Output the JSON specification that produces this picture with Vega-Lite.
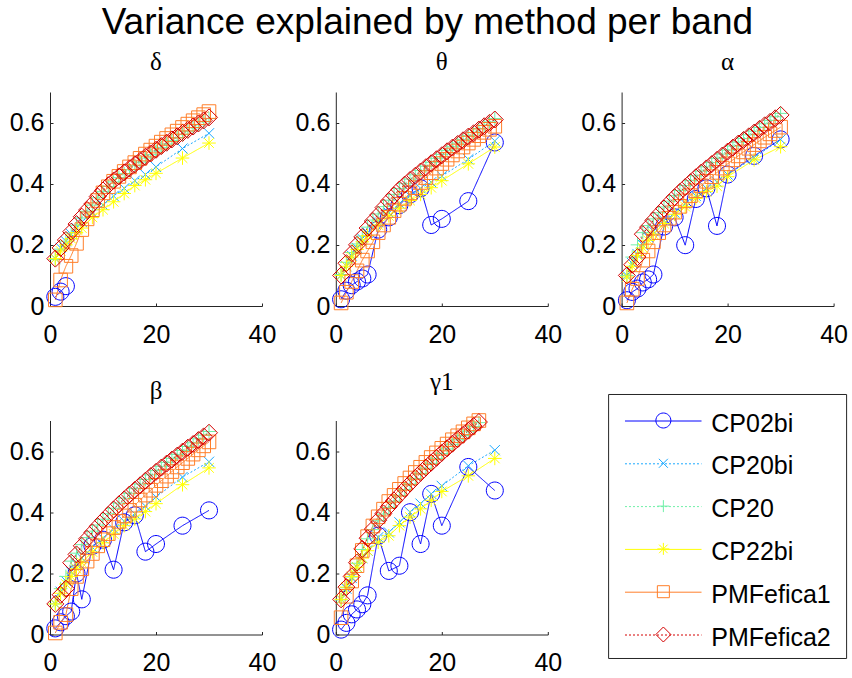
{
"$schema":"https://vega.github.io/schema/vega-lite/v6.json",
"background":"white",
"padding":{"left":9,"top":4,"right":0,"bottom":0},
"title":{"text":"Variance explained by method per band","font":"Liberation Sans","fontSize":37,"fontWeight":"normal","color":"#000","anchor":"middle","offset":8,"dx":-1},
"datasets":{
"d":[
{"m":"CP02bi","x":1,"y":0.03},{"m":"CP02bi","x":2,"y":0.047},{"m":"CP02bi","x":3,"y":0.065},
{"m":"CP20bi","x":1,"y":0.155},{"m":"CP20bi","x":2,"y":0.19},{"m":"CP20bi","x":3,"y":0.212},{"m":"CP20bi","x":4,"y":0.235},{"m":"CP20bi","x":5,"y":0.255},{"m":"CP20bi","x":6,"y":0.275},{"m":"CP20bi","x":8,"y":0.305},{"m":"CP20bi","x":10,"y":0.33},{"m":"CP20bi","x":12,"y":0.36},{"m":"CP20bi","x":14,"y":0.385},{"m":"CP20bi","x":16,"y":0.41},{"m":"CP20bi","x":18,"y":0.43},{"m":"CP20bi","x":20,"y":0.455},{"m":"CP20bi","x":25,"y":0.515},{"m":"CP20bi","x":30,"y":0.565},
{"m":"CP20","x":1,"y":0.152},{"m":"CP20","x":2,"y":0.186},{"m":"CP20","x":3,"y":0.212},{"m":"CP20","x":4,"y":0.239},{"m":"CP20","x":5,"y":0.264},{"m":"CP20","x":6,"y":0.288},{"m":"CP20","x":7,"y":0.31},{"m":"CP20","x":8,"y":0.33},{"m":"CP20","x":9,"y":0.354},{"m":"CP20","x":10,"y":0.374},{"m":"CP20","x":11,"y":0.391},{"m":"CP20","x":12,"y":0.406},{"m":"CP20","x":13,"y":0.42},{"m":"CP20","x":14,"y":0.433},{"m":"CP20","x":15,"y":0.446},{"m":"CP20","x":16,"y":0.459},{"m":"CP20","x":17,"y":0.471},{"m":"CP20","x":18,"y":0.484},{"m":"CP20","x":19,"y":0.495},{"m":"CP20","x":20,"y":0.507},{"m":"CP20","x":21,"y":0.519},{"m":"CP20","x":22,"y":0.53},{"m":"CP20","x":23,"y":0.541},{"m":"CP20","x":24,"y":0.551},{"m":"CP20","x":25,"y":0.562},{"m":"CP20","x":26,"y":0.572},{"m":"CP20","x":27,"y":0.583},{"m":"CP20","x":28,"y":0.593},{"m":"CP20","x":29,"y":0.603},{"m":"CP20","x":30,"y":0.613},
{"m":"CP22bi","x":1,"y":0.155},{"m":"CP22bi","x":2,"y":0.18},{"m":"CP22bi","x":3,"y":0.2},{"m":"CP22bi","x":4,"y":0.22},{"m":"CP22bi","x":5,"y":0.24},{"m":"CP22bi","x":6,"y":0.255},{"m":"CP22bi","x":8,"y":0.29},{"m":"CP22bi","x":10,"y":0.315},{"m":"CP22bi","x":12,"y":0.341},{"m":"CP22bi","x":14,"y":0.368},{"m":"CP22bi","x":16,"y":0.394},{"m":"CP22bi","x":18,"y":0.413},{"m":"CP22bi","x":20,"y":0.434},{"m":"CP22bi","x":25,"y":0.484},{"m":"CP22bi","x":30,"y":0.533},
{"m":"PMFefica1","x":1,"y":0.02},{"m":"PMFefica1","x":2,"y":0.085},{"m":"PMFefica1","x":3,"y":0.13},{"m":"PMFefica1","x":4,"y":0.165},{"m":"PMFefica1","x":5,"y":0.205},{"m":"PMFefica1","x":6,"y":0.25},{"m":"PMFefica1","x":7,"y":0.285},{"m":"PMFefica1","x":8,"y":0.315},{"m":"PMFefica1","x":9,"y":0.345},{"m":"PMFefica1","x":10,"y":0.37},{"m":"PMFefica1","x":11,"y":0.39},{"m":"PMFefica1","x":12,"y":0.408},{"m":"PMFefica1","x":13,"y":0.424},{"m":"PMFefica1","x":14,"y":0.44},{"m":"PMFefica1","x":15,"y":0.455},{"m":"PMFefica1","x":16,"y":0.469},{"m":"PMFefica1","x":17,"y":0.483},{"m":"PMFefica1","x":18,"y":0.497},{"m":"PMFefica1","x":19,"y":0.51},{"m":"PMFefica1","x":20,"y":0.523},{"m":"PMFefica1","x":21,"y":0.536},{"m":"PMFefica1","x":22,"y":0.548},{"m":"PMFefica1","x":23,"y":0.56},{"m":"PMFefica1","x":24,"y":0.572},{"m":"PMFefica1","x":25,"y":0.584},{"m":"PMFefica1","x":26,"y":0.595},{"m":"PMFefica1","x":27,"y":0.606},{"m":"PMFefica1","x":28,"y":0.616},{"m":"PMFefica1","x":29,"y":0.626},{"m":"PMFefica1","x":30,"y":0.636},
{"m":"PMFefica2","x":1,"y":0.155},{"m":"PMFefica2","x":2,"y":0.19},{"m":"PMFefica2","x":3,"y":0.216},{"m":"PMFefica2","x":4,"y":0.243},{"m":"PMFefica2","x":5,"y":0.268},{"m":"PMFefica2","x":6,"y":0.292},{"m":"PMFefica2","x":7,"y":0.314},{"m":"PMFefica2","x":8,"y":0.334},{"m":"PMFefica2","x":9,"y":0.358},{"m":"PMFefica2","x":10,"y":0.378},{"m":"PMFefica2","x":11,"y":0.395},{"m":"PMFefica2","x":12,"y":0.41},{"m":"PMFefica2","x":13,"y":0.424},{"m":"PMFefica2","x":14,"y":0.437},{"m":"PMFefica2","x":15,"y":0.45},{"m":"PMFefica2","x":16,"y":0.463},{"m":"PMFefica2","x":17,"y":0.475},{"m":"PMFefica2","x":18,"y":0.488},{"m":"PMFefica2","x":19,"y":0.499},{"m":"PMFefica2","x":20,"y":0.511},{"m":"PMFefica2","x":21,"y":0.523},{"m":"PMFefica2","x":22,"y":0.534},{"m":"PMFefica2","x":23,"y":0.545},{"m":"PMFefica2","x":24,"y":0.555},{"m":"PMFefica2","x":25,"y":0.566},{"m":"PMFefica2","x":26,"y":0.576},{"m":"PMFefica2","x":27,"y":0.587},{"m":"PMFefica2","x":28,"y":0.597},{"m":"PMFefica2","x":29,"y":0.607},{"m":"PMFefica2","x":30,"y":0.617}
],
"t":[
{"m":"CP02bi","x":1,"y":0.022},{"m":"CP02bi","x":2,"y":0.05},{"m":"CP02bi","x":3,"y":0.068},{"m":"CP02bi","x":4,"y":0.08},{"m":"CP02bi","x":5,"y":0.09},{"m":"CP02bi","x":6,"y":0.103},{"m":"CP02bi","x":8,"y":0.25},{"m":"CP02bi","x":10,"y":0.29},{"m":"CP02bi","x":12,"y":0.33},{"m":"CP02bi","x":14,"y":0.365},{"m":"CP02bi","x":16,"y":0.385},{"m":"CP02bi","x":18,"y":0.265},{"m":"CP02bi","x":20,"y":0.285},{"m":"CP02bi","x":25,"y":0.343},{"m":"CP02bi","x":30,"y":0.535},
{"m":"CP20bi","x":1,"y":0.1},{"m":"CP20bi","x":2,"y":0.13},{"m":"CP20bi","x":3,"y":0.165},{"m":"CP20bi","x":4,"y":0.19},{"m":"CP20bi","x":5,"y":0.22},{"m":"CP20bi","x":6,"y":0.24},{"m":"CP20bi","x":8,"y":0.275},{"m":"CP20bi","x":10,"y":0.305},{"m":"CP20bi","x":12,"y":0.335},{"m":"CP20bi","x":14,"y":0.36},{"m":"CP20bi","x":16,"y":0.385},{"m":"CP20bi","x":18,"y":0.405},{"m":"CP20bi","x":20,"y":0.425},{"m":"CP20bi","x":25,"y":0.48},{"m":"CP20bi","x":30,"y":0.54},
{"m":"CP20","x":1,"y":0.103},{"m":"CP20","x":2,"y":0.143},{"m":"CP20","x":3,"y":0.175},{"m":"CP20","x":4,"y":0.203},{"m":"CP20","x":5,"y":0.229},{"m":"CP20","x":6,"y":0.258},{"m":"CP20","x":7,"y":0.281},{"m":"CP20","x":8,"y":0.301},{"m":"CP20","x":9,"y":0.325},{"m":"CP20","x":10,"y":0.346},{"m":"CP20","x":11,"y":0.365},{"m":"CP20","x":12,"y":0.384},{"m":"CP20","x":13,"y":0.4},{"m":"CP20","x":14,"y":0.415},{"m":"CP20","x":15,"y":0.429},{"m":"CP20","x":16,"y":0.443},{"m":"CP20","x":17,"y":0.457},{"m":"CP20","x":18,"y":0.47},{"m":"CP20","x":19,"y":0.483},{"m":"CP20","x":20,"y":0.496},{"m":"CP20","x":21,"y":0.509},{"m":"CP20","x":22,"y":0.521},{"m":"CP20","x":23,"y":0.533},{"m":"CP20","x":24,"y":0.545},{"m":"CP20","x":25,"y":0.557},{"m":"CP20","x":26,"y":0.568},{"m":"CP20","x":27,"y":0.58},{"m":"CP20","x":28,"y":0.591},{"m":"CP20","x":29,"y":0.602},{"m":"CP20","x":30,"y":0.613},
{"m":"CP22bi","x":1,"y":0.1},{"m":"CP22bi","x":2,"y":0.13},{"m":"CP22bi","x":3,"y":0.16},{"m":"CP22bi","x":4,"y":0.185},{"m":"CP22bi","x":5,"y":0.21},{"m":"CP22bi","x":6,"y":0.23},{"m":"CP22bi","x":8,"y":0.265},{"m":"CP22bi","x":10,"y":0.295},{"m":"CP22bi","x":12,"y":0.32},{"m":"CP22bi","x":14,"y":0.345},{"m":"CP22bi","x":16,"y":0.365},{"m":"CP22bi","x":18,"y":0.387},{"m":"CP22bi","x":20,"y":0.41},{"m":"CP22bi","x":25,"y":0.465},{"m":"CP22bi","x":30,"y":0.52},
{"m":"PMFefica1","x":1,"y":0.01},{"m":"PMFefica1","x":2,"y":0.045},{"m":"PMFefica1","x":3,"y":0.08},{"m":"PMFefica1","x":4,"y":0.115},{"m":"PMFefica1","x":5,"y":0.15},{"m":"PMFefica1","x":6,"y":0.18},{"m":"PMFefica1","x":7,"y":0.21},{"m":"PMFefica1","x":8,"y":0.24},{"m":"PMFefica1","x":9,"y":0.265},{"m":"PMFefica1","x":10,"y":0.29},{"m":"PMFefica1","x":11,"y":0.312},{"m":"PMFefica1","x":12,"y":0.333},{"m":"PMFefica1","x":13,"y":0.352},{"m":"PMFefica1","x":14,"y":0.37},{"m":"PMFefica1","x":15,"y":0.387},{"m":"PMFefica1","x":16,"y":0.404},{"m":"PMFefica1","x":17,"y":0.42},{"m":"PMFefica1","x":18,"y":0.436},{"m":"PMFefica1","x":19,"y":0.451},{"m":"PMFefica1","x":20,"y":0.466},{"m":"PMFefica1","x":21,"y":0.48},{"m":"PMFefica1","x":22,"y":0.494},{"m":"PMFefica1","x":23,"y":0.507},{"m":"PMFefica1","x":24,"y":0.52},{"m":"PMFefica1","x":25,"y":0.533},{"m":"PMFefica1","x":26,"y":0.545},{"m":"PMFefica1","x":27,"y":0.557},{"m":"PMFefica1","x":28,"y":0.568},{"m":"PMFefica1","x":29,"y":0.578},{"m":"PMFefica1","x":30,"y":0.588},
{"m":"PMFefica2","x":1,"y":0.1},{"m":"PMFefica2","x":2,"y":0.14},{"m":"PMFefica2","x":3,"y":0.172},{"m":"PMFefica2","x":4,"y":0.2},{"m":"PMFefica2","x":5,"y":0.226},{"m":"PMFefica2","x":6,"y":0.255},{"m":"PMFefica2","x":7,"y":0.278},{"m":"PMFefica2","x":8,"y":0.298},{"m":"PMFefica2","x":9,"y":0.322},{"m":"PMFefica2","x":10,"y":0.343},{"m":"PMFefica2","x":11,"y":0.362},{"m":"PMFefica2","x":12,"y":0.381},{"m":"PMFefica2","x":13,"y":0.397},{"m":"PMFefica2","x":14,"y":0.412},{"m":"PMFefica2","x":15,"y":0.426},{"m":"PMFefica2","x":16,"y":0.44},{"m":"PMFefica2","x":17,"y":0.454},{"m":"PMFefica2","x":18,"y":0.467},{"m":"PMFefica2","x":19,"y":0.48},{"m":"PMFefica2","x":20,"y":0.493},{"m":"PMFefica2","x":21,"y":0.506},{"m":"PMFefica2","x":22,"y":0.518},{"m":"PMFefica2","x":23,"y":0.53},{"m":"PMFefica2","x":24,"y":0.542},{"m":"PMFefica2","x":25,"y":0.554},{"m":"PMFefica2","x":26,"y":0.565},{"m":"PMFefica2","x":27,"y":0.577},{"m":"PMFefica2","x":28,"y":0.588},{"m":"PMFefica2","x":29,"y":0.599},{"m":"PMFefica2","x":30,"y":0.61}
],
"a":[
{"m":"CP02bi","x":1,"y":0.019},{"m":"CP02bi","x":2,"y":0.046},{"m":"CP02bi","x":3,"y":0.057},{"m":"CP02bi","x":4,"y":0.077},{"m":"CP02bi","x":5,"y":0.087},{"m":"CP02bi","x":6,"y":0.103},{"m":"CP02bi","x":8,"y":0.26},{"m":"CP02bi","x":10,"y":0.29},{"m":"CP02bi","x":12,"y":0.199},{"m":"CP02bi","x":14,"y":0.35},{"m":"CP02bi","x":16,"y":0.385},{"m":"CP02bi","x":18,"y":0.262},{"m":"CP02bi","x":20,"y":0.43},{"m":"CP02bi","x":25,"y":0.491},{"m":"CP02bi","x":30,"y":0.545},
{"m":"CP20bi","x":1,"y":0.1},{"m":"CP20bi","x":2,"y":0.14},{"m":"CP20bi","x":3,"y":0.17},{"m":"CP20bi","x":4,"y":0.2},{"m":"CP20bi","x":5,"y":0.225},{"m":"CP20bi","x":6,"y":0.245},{"m":"CP20bi","x":8,"y":0.28},{"m":"CP20bi","x":10,"y":0.305},{"m":"CP20bi","x":12,"y":0.335},{"m":"CP20bi","x":14,"y":0.36},{"m":"CP20bi","x":16,"y":0.385},{"m":"CP20bi","x":18,"y":0.405},{"m":"CP20bi","x":20,"y":0.43},{"m":"CP20bi","x":25,"y":0.485},{"m":"CP20bi","x":30,"y":0.545},
{"m":"CP20","x":1,"y":0.1},{"m":"CP20","x":2,"y":0.16},{"m":"CP20","x":3,"y":0.2},{"m":"CP20","x":4,"y":0.24},{"m":"CP20","x":5,"y":0.263},{"m":"CP20","x":6,"y":0.285},{"m":"CP20","x":7,"y":0.305},{"m":"CP20","x":8,"y":0.324},{"m":"CP20","x":9,"y":0.343},{"m":"CP20","x":10,"y":0.361},{"m":"CP20","x":11,"y":0.378},{"m":"CP20","x":12,"y":0.394},{"m":"CP20","x":13,"y":0.41},{"m":"CP20","x":14,"y":0.426},{"m":"CP20","x":15,"y":0.441},{"m":"CP20","x":16,"y":0.455},{"m":"CP20","x":17,"y":0.469},{"m":"CP20","x":18,"y":0.483},{"m":"CP20","x":19,"y":0.497},{"m":"CP20","x":20,"y":0.51},{"m":"CP20","x":21,"y":0.523},{"m":"CP20","x":22,"y":0.536},{"m":"CP20","x":23,"y":0.548},{"m":"CP20","x":24,"y":0.56},{"m":"CP20","x":25,"y":0.572},{"m":"CP20","x":26,"y":0.584},{"m":"CP20","x":27,"y":0.596},{"m":"CP20","x":28,"y":0.607},{"m":"CP20","x":29,"y":0.619},{"m":"CP20","x":30,"y":0.63},
{"m":"CP22bi","x":1,"y":0.095},{"m":"CP22bi","x":2,"y":0.13},{"m":"CP22bi","x":3,"y":0.165},{"m":"CP22bi","x":4,"y":0.19},{"m":"CP22bi","x":5,"y":0.215},{"m":"CP22bi","x":6,"y":0.235},{"m":"CP22bi","x":8,"y":0.27},{"m":"CP22bi","x":10,"y":0.3},{"m":"CP22bi","x":12,"y":0.325},{"m":"CP22bi","x":14,"y":0.352},{"m":"CP22bi","x":16,"y":0.374},{"m":"CP22bi","x":18,"y":0.392},{"m":"CP22bi","x":20,"y":0.423},{"m":"CP22bi","x":25,"y":0.478},{"m":"CP22bi","x":30,"y":0.521},
{"m":"PMFefica1","x":1,"y":0.01},{"m":"PMFefica1","x":2,"y":0.055},{"m":"PMFefica1","x":3,"y":0.09},{"m":"PMFefica1","x":4,"y":0.15},{"m":"PMFefica1","x":5,"y":0.18},{"m":"PMFefica1","x":6,"y":0.21},{"m":"PMFefica1","x":7,"y":0.24},{"m":"PMFefica1","x":8,"y":0.265},{"m":"PMFefica1","x":9,"y":0.287},{"m":"PMFefica1","x":10,"y":0.307},{"m":"PMFefica1","x":11,"y":0.326},{"m":"PMFefica1","x":12,"y":0.344},{"m":"PMFefica1","x":13,"y":0.361},{"m":"PMFefica1","x":14,"y":0.377},{"m":"PMFefica1","x":15,"y":0.393},{"m":"PMFefica1","x":16,"y":0.408},{"m":"PMFefica1","x":17,"y":0.423},{"m":"PMFefica1","x":18,"y":0.437},{"m":"PMFefica1","x":19,"y":0.451},{"m":"PMFefica1","x":20,"y":0.465},{"m":"PMFefica1","x":21,"y":0.478},{"m":"PMFefica1","x":22,"y":0.491},{"m":"PMFefica1","x":23,"y":0.504},{"m":"PMFefica1","x":24,"y":0.516},{"m":"PMFefica1","x":25,"y":0.528},{"m":"PMFefica1","x":26,"y":0.54},{"m":"PMFefica1","x":27,"y":0.552},{"m":"PMFefica1","x":28,"y":0.563},{"m":"PMFefica1","x":29,"y":0.574},{"m":"PMFefica1","x":30,"y":0.585},
{"m":"PMFefica2","x":1,"y":0.1},{"m":"PMFefica2","x":2,"y":0.135},{"m":"PMFefica2","x":3,"y":0.16},{"m":"PMFefica2","x":4,"y":0.235},{"m":"PMFefica2","x":5,"y":0.258},{"m":"PMFefica2","x":6,"y":0.28},{"m":"PMFefica2","x":7,"y":0.3},{"m":"PMFefica2","x":8,"y":0.319},{"m":"PMFefica2","x":9,"y":0.338},{"m":"PMFefica2","x":10,"y":0.356},{"m":"PMFefica2","x":11,"y":0.373},{"m":"PMFefica2","x":12,"y":0.389},{"m":"PMFefica2","x":13,"y":0.405},{"m":"PMFefica2","x":14,"y":0.421},{"m":"PMFefica2","x":15,"y":0.436},{"m":"PMFefica2","x":16,"y":0.45},{"m":"PMFefica2","x":17,"y":0.464},{"m":"PMFefica2","x":18,"y":0.478},{"m":"PMFefica2","x":19,"y":0.492},{"m":"PMFefica2","x":20,"y":0.505},{"m":"PMFefica2","x":21,"y":0.518},{"m":"PMFefica2","x":22,"y":0.531},{"m":"PMFefica2","x":23,"y":0.543},{"m":"PMFefica2","x":24,"y":0.555},{"m":"PMFefica2","x":25,"y":0.567},{"m":"PMFefica2","x":26,"y":0.579},{"m":"PMFefica2","x":27,"y":0.591},{"m":"PMFefica2","x":28,"y":0.602},{"m":"PMFefica2","x":29,"y":0.614},{"m":"PMFefica2","x":30,"y":0.625}
],
"b":[
{"m":"CP02bi","x":1,"y":0.02},{"m":"CP02bi","x":2,"y":0.04},{"m":"CP02bi","x":3,"y":0.06},{"m":"CP02bi","x":4,"y":0.075},{"m":"CP02bi","x":5,"y":0.2},{"m":"CP02bi","x":6,"y":0.115},{"m":"CP02bi","x":8,"y":0.29},{"m":"CP02bi","x":10,"y":0.31},{"m":"CP02bi","x":12,"y":0.212},{"m":"CP02bi","x":14,"y":0.367},{"m":"CP02bi","x":16,"y":0.39},{"m":"CP02bi","x":18,"y":0.271},{"m":"CP02bi","x":20,"y":0.296},{"m":"CP02bi","x":25,"y":0.356},{"m":"CP02bi","x":30,"y":0.406},
{"m":"CP20bi","x":1,"y":0.1},{"m":"CP20bi","x":2,"y":0.14},{"m":"CP20bi","x":3,"y":0.175},{"m":"CP20bi","x":4,"y":0.205},{"m":"CP20bi","x":5,"y":0.23},{"m":"CP20bi","x":6,"y":0.25},{"m":"CP20bi","x":8,"y":0.285},{"m":"CP20bi","x":10,"y":0.315},{"m":"CP20bi","x":12,"y":0.345},{"m":"CP20bi","x":14,"y":0.37},{"m":"CP20bi","x":16,"y":0.395},{"m":"CP20bi","x":18,"y":0.42},{"m":"CP20bi","x":20,"y":0.45},{"m":"CP20bi","x":25,"y":0.515},{"m":"CP20bi","x":30,"y":0.565},
{"m":"CP20","x":1,"y":0.1},{"m":"CP20","x":2,"y":0.15},{"m":"CP20","x":3,"y":0.19},{"m":"CP20","x":4,"y":0.24},{"m":"CP20","x":5,"y":0.266},{"m":"CP20","x":6,"y":0.294},{"m":"CP20","x":7,"y":0.317},{"m":"CP20","x":8,"y":0.338},{"m":"CP20","x":9,"y":0.358},{"m":"CP20","x":10,"y":0.377},{"m":"CP20","x":11,"y":0.395},{"m":"CP20","x":12,"y":0.413},{"m":"CP20","x":13,"y":0.43},{"m":"CP20","x":14,"y":0.446},{"m":"CP20","x":15,"y":0.462},{"m":"CP20","x":16,"y":0.477},{"m":"CP20","x":17,"y":0.492},{"m":"CP20","x":18,"y":0.507},{"m":"CP20","x":19,"y":0.522},{"m":"CP20","x":20,"y":0.536},{"m":"CP20","x":21,"y":0.55},{"m":"CP20","x":22,"y":0.563},{"m":"CP20","x":23,"y":0.576},{"m":"CP20","x":24,"y":0.589},{"m":"CP20","x":25,"y":0.602},{"m":"CP20","x":26,"y":0.615},{"m":"CP20","x":27,"y":0.627},{"m":"CP20","x":28,"y":0.64},{"m":"CP20","x":29,"y":0.652},{"m":"CP20","x":30,"y":0.664},
{"m":"CP22bi","x":1,"y":0.1},{"m":"CP22bi","x":2,"y":0.135},{"m":"CP22bi","x":3,"y":0.165},{"m":"CP22bi","x":4,"y":0.19},{"m":"CP22bi","x":5,"y":0.215},{"m":"CP22bi","x":6,"y":0.235},{"m":"CP22bi","x":8,"y":0.27},{"m":"CP22bi","x":10,"y":0.3},{"m":"CP22bi","x":12,"y":0.329},{"m":"CP22bi","x":14,"y":0.356},{"m":"CP22bi","x":16,"y":0.378},{"m":"CP22bi","x":18,"y":0.402},{"m":"CP22bi","x":20,"y":0.428},{"m":"CP22bi","x":25,"y":0.49},{"m":"CP22bi","x":30,"y":0.545},
{"m":"PMFefica1","x":1,"y":0.005},{"m":"PMFefica1","x":2,"y":0.04},{"m":"PMFefica1","x":3,"y":0.065},{"m":"PMFefica1","x":4,"y":0.15},{"m":"PMFefica1","x":5,"y":0.19},{"m":"PMFefica1","x":6,"y":0.215},{"m":"PMFefica1","x":7,"y":0.24},{"m":"PMFefica1","x":8,"y":0.265},{"m":"PMFefica1","x":9,"y":0.29},{"m":"PMFefica1","x":10,"y":0.31},{"m":"PMFefica1","x":11,"y":0.33},{"m":"PMFefica1","x":12,"y":0.35},{"m":"PMFefica1","x":13,"y":0.37},{"m":"PMFefica1","x":14,"y":0.388},{"m":"PMFefica1","x":15,"y":0.406},{"m":"PMFefica1","x":16,"y":0.423},{"m":"PMFefica1","x":17,"y":0.44},{"m":"PMFefica1","x":18,"y":0.456},{"m":"PMFefica1","x":19,"y":0.472},{"m":"PMFefica1","x":20,"y":0.488},{"m":"PMFefica1","x":21,"y":0.503},{"m":"PMFefica1","x":22,"y":0.518},{"m":"PMFefica1","x":23,"y":0.533},{"m":"PMFefica1","x":24,"y":0.548},{"m":"PMFefica1","x":25,"y":0.562},{"m":"PMFefica1","x":26,"y":0.576},{"m":"PMFefica1","x":27,"y":0.59},{"m":"PMFefica1","x":28,"y":0.604},{"m":"PMFefica1","x":29,"y":0.617},{"m":"PMFefica1","x":30,"y":0.63},
{"m":"PMFefica2","x":1,"y":0.1},{"m":"PMFefica2","x":2,"y":0.13},{"m":"PMFefica2","x":3,"y":0.15},{"m":"PMFefica2","x":4,"y":0.235},{"m":"PMFefica2","x":5,"y":0.262},{"m":"PMFefica2","x":6,"y":0.29},{"m":"PMFefica2","x":7,"y":0.313},{"m":"PMFefica2","x":8,"y":0.334},{"m":"PMFefica2","x":9,"y":0.354},{"m":"PMFefica2","x":10,"y":0.373},{"m":"PMFefica2","x":11,"y":0.391},{"m":"PMFefica2","x":12,"y":0.409},{"m":"PMFefica2","x":13,"y":0.426},{"m":"PMFefica2","x":14,"y":0.442},{"m":"PMFefica2","x":15,"y":0.458},{"m":"PMFefica2","x":16,"y":0.473},{"m":"PMFefica2","x":17,"y":0.488},{"m":"PMFefica2","x":18,"y":0.503},{"m":"PMFefica2","x":19,"y":0.518},{"m":"PMFefica2","x":20,"y":0.532},{"m":"PMFefica2","x":21,"y":0.546},{"m":"PMFefica2","x":22,"y":0.559},{"m":"PMFefica2","x":23,"y":0.572},{"m":"PMFefica2","x":24,"y":0.585},{"m":"PMFefica2","x":25,"y":0.598},{"m":"PMFefica2","x":26,"y":0.611},{"m":"PMFefica2","x":27,"y":0.623},{"m":"PMFefica2","x":28,"y":0.636},{"m":"PMFefica2","x":29,"y":0.648},{"m":"PMFefica2","x":30,"y":0.66}
],
"g":[
{"m":"CP02bi","x":1,"y":0.016},{"m":"CP02bi","x":2,"y":0.038},{"m":"CP02bi","x":3,"y":0.066},{"m":"CP02bi","x":4,"y":0.082},{"m":"CP02bi","x":5,"y":0.099},{"m":"CP02bi","x":6,"y":0.128},{"m":"CP02bi","x":8,"y":0.323},{"m":"CP02bi","x":10,"y":0.208},{"m":"CP02bi","x":12,"y":0.225},{"m":"CP02bi","x":14,"y":0.4},{"m":"CP02bi","x":16,"y":0.296},{"m":"CP02bi","x":18,"y":0.46},{"m":"CP02bi","x":20,"y":0.356},{"m":"CP02bi","x":25,"y":0.548},{"m":"CP02bi","x":30,"y":0.471},
{"m":"CP20bi","x":1,"y":0.115},{"m":"CP20bi","x":2,"y":0.15},{"m":"CP20bi","x":3,"y":0.185},{"m":"CP20bi","x":4,"y":0.22},{"m":"CP20bi","x":5,"y":0.25},{"m":"CP20bi","x":6,"y":0.274},{"m":"CP20bi","x":8,"y":0.318},{"m":"CP20bi","x":10,"y":0.334},{"m":"CP20bi","x":12,"y":0.367},{"m":"CP20bi","x":14,"y":0.4},{"m":"CP20bi","x":16,"y":0.428},{"m":"CP20bi","x":18,"y":0.46},{"m":"CP20bi","x":20,"y":0.486},{"m":"CP20bi","x":25,"y":0.552},{"m":"CP20bi","x":30,"y":0.603},
{"m":"CP20","x":1,"y":0.113},{"m":"CP20","x":2,"y":0.153},{"m":"CP20","x":3,"y":0.188},{"m":"CP20","x":4,"y":0.233},{"m":"CP20","x":5,"y":0.278},{"m":"CP20","x":6,"y":0.313},{"m":"CP20","x":7,"y":0.343},{"m":"CP20","x":8,"y":0.372},{"m":"CP20","x":9,"y":0.394},{"m":"CP20","x":10,"y":0.416},{"m":"CP20","x":11,"y":0.436},{"m":"CP20","x":12,"y":0.455},{"m":"CP20","x":13,"y":0.474},{"m":"CP20","x":14,"y":0.492},{"m":"CP20","x":15,"y":0.51},{"m":"CP20","x":16,"y":0.527},{"m":"CP20","x":17,"y":0.544},{"m":"CP20","x":18,"y":0.56},{"m":"CP20","x":19,"y":0.576},{"m":"CP20","x":20,"y":0.592},{"m":"CP20","x":21,"y":0.607},{"m":"CP20","x":22,"y":0.622},{"m":"CP20","x":23,"y":0.637},{"m":"CP20","x":24,"y":0.651},{"m":"CP20","x":25,"y":0.665},{"m":"CP20","x":26,"y":0.68},{"m":"CP20","x":27,"y":0.693},
{"m":"CP22bi","x":1,"y":0.115},{"m":"CP22bi","x":2,"y":0.155},{"m":"CP22bi","x":3,"y":0.19},{"m":"CP22bi","x":4,"y":0.22},{"m":"CP22bi","x":5,"y":0.25},{"m":"CP22bi","x":6,"y":0.274},{"m":"CP22bi","x":8,"y":0.302},{"m":"CP22bi","x":10,"y":0.323},{"m":"CP22bi","x":12,"y":0.356},{"m":"CP22bi","x":14,"y":0.384},{"m":"CP22bi","x":16,"y":0.411},{"m":"CP22bi","x":18,"y":0.439},{"m":"CP22bi","x":20,"y":0.468},{"m":"CP22bi","x":25,"y":0.519},{"m":"CP22bi","x":30,"y":0.576},
{"m":"PMFefica1","x":1,"y":0.055},{"m":"PMFefica1","x":2,"y":0.125},{"m":"PMFefica1","x":3,"y":0.175},{"m":"PMFefica1","x":4,"y":0.225},{"m":"PMFefica1","x":5,"y":0.275},{"m":"PMFefica1","x":6,"y":0.32},{"m":"PMFefica1","x":7,"y":0.355},{"m":"PMFefica1","x":8,"y":0.385},{"m":"PMFefica1","x":9,"y":0.41},{"m":"PMFefica1","x":10,"y":0.435},{"m":"PMFefica1","x":11,"y":0.455},{"m":"PMFefica1","x":12,"y":0.475},{"m":"PMFefica1","x":13,"y":0.494},{"m":"PMFefica1","x":14,"y":0.512},{"m":"PMFefica1","x":15,"y":0.53},{"m":"PMFefica1","x":16,"y":0.547},{"m":"PMFefica1","x":17,"y":0.563},{"m":"PMFefica1","x":18,"y":0.579},{"m":"PMFefica1","x":19,"y":0.594},{"m":"PMFefica1","x":20,"y":0.609},{"m":"PMFefica1","x":21,"y":0.623},{"m":"PMFefica1","x":22,"y":0.637},{"m":"PMFefica1","x":23,"y":0.65},{"m":"PMFefica1","x":24,"y":0.663},{"m":"PMFefica1","x":25,"y":0.676},{"m":"PMFefica1","x":26,"y":0.689},{"m":"PMFefica1","x":27,"y":0.7},
{"m":"PMFefica2","x":1,"y":0.115},{"m":"PMFefica2","x":2,"y":0.155},{"m":"PMFefica2","x":3,"y":0.19},{"m":"PMFefica2","x":4,"y":0.235},{"m":"PMFefica2","x":5,"y":0.28},{"m":"PMFefica2","x":6,"y":0.315},{"m":"PMFefica2","x":7,"y":0.345},{"m":"PMFefica2","x":8,"y":0.374},{"m":"PMFefica2","x":9,"y":0.396},{"m":"PMFefica2","x":10,"y":0.418},{"m":"PMFefica2","x":11,"y":0.438},{"m":"PMFefica2","x":12,"y":0.457},{"m":"PMFefica2","x":13,"y":0.476},{"m":"PMFefica2","x":14,"y":0.494},{"m":"PMFefica2","x":15,"y":0.512},{"m":"PMFefica2","x":16,"y":0.529},{"m":"PMFefica2","x":17,"y":0.546},{"m":"PMFefica2","x":18,"y":0.562},{"m":"PMFefica2","x":19,"y":0.578},{"m":"PMFefica2","x":20,"y":0.594},{"m":"PMFefica2","x":21,"y":0.609},{"m":"PMFefica2","x":22,"y":0.624},{"m":"PMFefica2","x":23,"y":0.639},{"m":"PMFefica2","x":24,"y":0.653},{"m":"PMFefica2","x":25,"y":0.667},{"m":"PMFefica2","x":26,"y":0.682},{"m":"PMFefica2","x":27,"y":0.695}
],
"leg":[{"m":"CP02bi"},{"m":"CP20bi"},{"m":"CP20"},{"m":"CP22bi"},{"m":"PMFefica1"},{"m":"PMFefica2"}]
},
"columns":3,
"spacing":{"row":114.5,"column":73.8},
"bounds":"flush",
"align":"all",
"concat":[
{"width":212,"height":214,"title":{"text":"δ"},"data":{"name":"d"},
 "encoding":{"x":{"field":"x","type":"quantitative","scale":{"domain":[0,40],"nice":false},"axis":{"values":[0,20,40]}},"y":{"field":"y","type":"quantitative","scale":{"domain":[0,0.7],"nice":false,"zero":false},"axis":{"values":[0,0.2,0.4,0.6],"format":"~g"}},"color":{"field":"m","type":"nominal","scale":{"domain":["CP02bi","CP20bi","CP20","CP22bi","PMFefica1","PMFefica2"],"range":["#0000ff","#1aa8ff","#70f0a8","#ffff00","#ff7f2a","#d40000"]},"legend":null}},
 "layer":[{"mark":{"type":"line","strokeWidth":1},"encoding":{"strokeDash":{"field":"m","type":"nominal","scale":{"domain":["CP02bi","CP20bi","CP20","CP22bi","PMFefica1","PMFefica2"],"range":[[1,0],[2,2],[2,2],[1,0],[1,0],[2,2]]},"legend":null}}},
  {"mark":{"type":"point","filled":false,"strokeWidth":1,"size":289,"opacity":1},"encoding":{"shape":{"field":"m","type":"nominal","scale":{"domain":["CP02bi","CP20bi","CP20","CP22bi","PMFefica1","PMFefica2"],"range":["M1,0A1,1,0,1,1,-1,0A1,1,0,1,1,1,0Z","M-0.6,-0.6L0.6,0.6M-0.6,0.6L0.6,-0.6","M-0.8,0L0.8,0M0,-0.8L0,0.8","M-0.8,0L0.8,0M0,-0.8L0,0.8M-0.57,-0.57L0.57,0.57M-0.57,0.57L0.57,-0.57","M-0.8,-0.8L0.8,-0.8L0.8,0.8L-0.8,0.8Z","M0,-1L1,0L0,1L-1,0Z"]},"legend":null}}}]},
{"width":212,"height":214,"title":{"text":"θ"},"data":{"name":"t"},
 "encoding":{"x":{"field":"x","type":"quantitative","scale":{"domain":[0,40],"nice":false},"axis":{"values":[0,20,40]}},"y":{"field":"y","type":"quantitative","scale":{"domain":[0,0.7],"nice":false,"zero":false},"axis":{"values":[0,0.2,0.4,0.6],"format":"~g"}},"color":{"field":"m","type":"nominal","legend":null}},
 "layer":[{"mark":{"type":"line","strokeWidth":1},"encoding":{"strokeDash":{"field":"m","type":"nominal","legend":null}}},
  {"mark":{"type":"point","filled":false,"strokeWidth":1,"size":289,"opacity":1},"encoding":{"shape":{"field":"m","type":"nominal","legend":null}}}]},
{"width":212,"height":214,"title":{"text":"α"},"data":{"name":"a"},
 "encoding":{"x":{"field":"x","type":"quantitative","scale":{"domain":[0,40],"nice":false},"axis":{"values":[0,20,40]}},"y":{"field":"y","type":"quantitative","scale":{"domain":[0,0.7],"nice":false,"zero":false},"axis":{"values":[0,0.2,0.4,0.6],"format":"~g"}},"color":{"field":"m","type":"nominal","legend":null}},
 "layer":[{"mark":{"type":"line","strokeWidth":1},"encoding":{"strokeDash":{"field":"m","type":"nominal","legend":null}}},
  {"mark":{"type":"point","filled":false,"strokeWidth":1,"size":289,"opacity":1},"encoding":{"shape":{"field":"m","type":"nominal","legend":null}}}]},
{"width":212,"height":214,"title":{"text":"β"},"data":{"name":"b"},
 "encoding":{"x":{"field":"x","type":"quantitative","scale":{"domain":[0,40],"nice":false},"axis":{"values":[0,20,40]}},"y":{"field":"y","type":"quantitative","scale":{"domain":[0,0.7],"nice":false,"zero":false},"axis":{"values":[0,0.2,0.4,0.6],"format":"~g"}},"color":{"field":"m","type":"nominal","legend":null}},
 "layer":[{"mark":{"type":"line","strokeWidth":1},"encoding":{"strokeDash":{"field":"m","type":"nominal","legend":null}}},
  {"mark":{"type":"point","filled":false,"strokeWidth":1,"size":289,"opacity":1},"encoding":{"shape":{"field":"m","type":"nominal","legend":null}}}]},
{"width":212,"height":214,"title":{"text":"γ1"},"data":{"name":"g"},
 "encoding":{"x":{"field":"x","type":"quantitative","scale":{"domain":[0,40],"nice":false},"axis":{"values":[0,20,40]}},"y":{"field":"y","type":"quantitative","scale":{"domain":[0,0.7],"nice":false,"zero":false},"axis":{"values":[0,0.2,0.4,0.6],"format":"~g"}},"color":{"field":"m","type":"nominal","legend":null}},
 "layer":[{"mark":{"type":"line","strokeWidth":1},"encoding":{"strokeDash":{"field":"m","type":"nominal","legend":null}}},
  {"mark":{"type":"point","filled":false,"strokeWidth":1,"size":289,"opacity":1},"encoding":{"shape":{"field":"m","type":"nominal","legend":null}}}]},
{"width":212,"height":214,
 "resolve":{"scale":{"y":"independent"}},
 "layer":[
  {"data":{"values":[{"box":"legend"}]},"mark":{"type":"rect","filled":false,"color":"#262626","strokeWidth":1},
   "encoding":{"x":{"datum":-0.0613,"type":"quantitative","scale":{"domain":[0,1],"nice":false,"zero":false},"axis":null},"x2":{"datum":1.0613},"y":{"datum":-0.1121,"type":"quantitative","scale":{"domain":[0,1],"nice":false,"zero":false},"axis":null},"y2":{"datum":1.1215}}},
  {"data":{"name":"leg"},"mark":{"type":"rule","strokeWidth":1,"yOffset":0.5},
   "encoding":{"y":{"field":"m","type":"nominal","scale":{"type":"point","padding":0,"domain":["CP02bi","CP20bi","CP20","CP22bi","PMFefica1","PMFefica2"]},"axis":null},"x":{"datum":0.016,"type":"quantitative"},"x2":{"datum":0.377},"color":{"field":"m","type":"nominal","legend":null},"strokeDash":{"field":"m","type":"nominal","legend":null}}},
  {"data":{"name":"leg"},"mark":{"type":"point","filled":false,"strokeWidth":1,"size":225,"opacity":1},
   "encoding":{"y":{"field":"m","type":"nominal","scale":{"type":"point","padding":0,"domain":["CP02bi","CP20bi","CP20","CP22bi","PMFefica1","PMFefica2"]},"axis":null},"x":{"datum":0.197,"type":"quantitative"},"color":{"field":"m","type":"nominal","legend":null},"shape":{"field":"m","type":"nominal","legend":null}}},
  {"data":{"name":"leg"},"mark":{"type":"text","align":"left","baseline":"middle","dy":3,"fontSize":25,"font":"Liberation Sans","color":"#000"},
   "encoding":{"y":{"field":"m","type":"nominal","scale":{"type":"point","padding":0,"domain":["CP02bi","CP20bi","CP20","CP22bi","PMFefica1","PMFefica2"]},"axis":null},"x":{"datum":0.423,"type":"quantitative"},"text":{"field":"m","type":"nominal"}}}
 ]}
],
"config":{
 "view":{"stroke":null},
 "font":"Liberation Sans",
 "axis":{"domainColor":"#262626","tickColor":"#262626","labelColor":"#000","labelFont":"Liberation Sans","labelFontSize":25,"grid":false,"domainWidth":1,"tickWidth":1,"tickSize":-3,"title":null,"labelOverlap":false},
 "axisX":{"labelFlush":false,"labelPadding":19},
 "axisY":{"labelPadding":9},
 "title":{"font":"Liberation Serif","fontSize":25,"fontWeight":"normal","color":"#000","baseline":"alphabetic","offset":17}
}
}
